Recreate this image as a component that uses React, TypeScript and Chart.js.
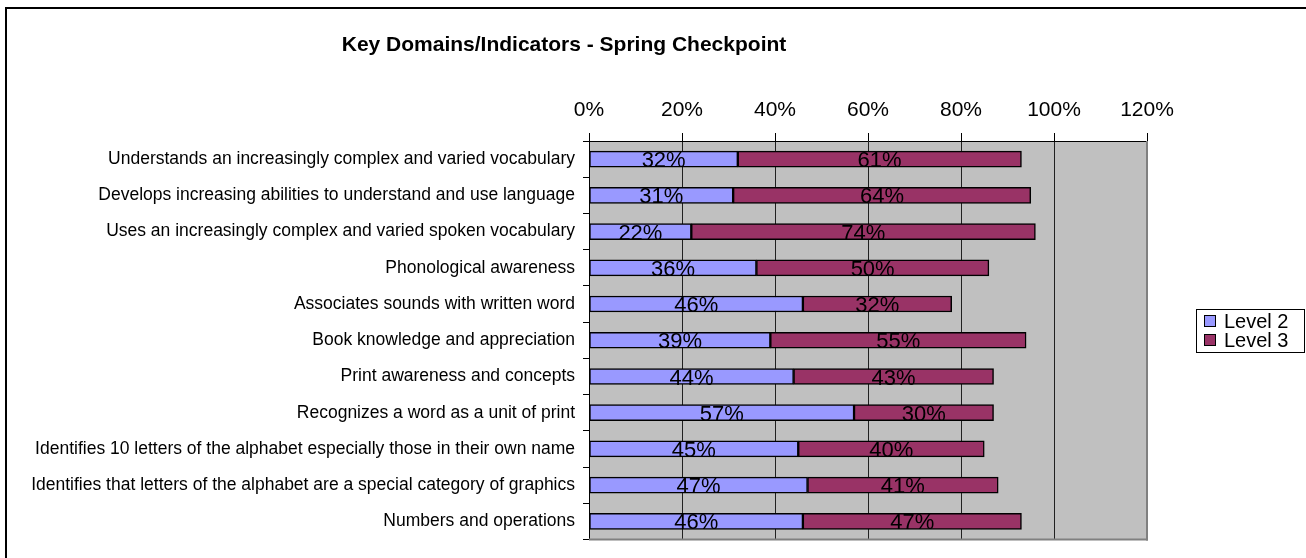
import React, { useEffect, useRef } from "react";
import { Chart, registerables } from "chart.js";

Chart.register(...registerables);

const TITLE = "Key Domains/Indicators - Spring Checkpoint";
const CATEGORIES = [
  "Understands an increasingly complex and varied vocabulary",
  "Develops increasing abilities to understand and use language",
  "Uses an increasingly complex and varied spoken vocabulary",
  "Phonological awareness",
  "Associates sounds with written word",
  "Book knowledge and appreciation",
  "Print awareness and concepts",
  "Recognizes a word as a unit of print",
  "Identifies 10 letters of the alphabet especially those in their own name",
  "Identifies that letters of the alphabet are a special category of graphics",
  "Numbers and operations",
];
const LEVEL2 = [32, 31, 22, 36, 46, 39, 44, 57, 45, 47, 46];
const LEVEL3 = [61, 64, 74, 50, 32, 55, 43, 30, 40, 41, 47];
const SERIES_NAMES = ["Level 2", "Level 3"];
const SERIES_COLORS = ["#9999FF", "#993366"];
const X_MIN = 0;
const X_MAX = 120;
const X_STEP = 20;

const FONT = "'Liberation Sans', Arial, sans-serif";

export default function App() {
  const ref = useRef<HTMLCanvasElement | null>(null);

  useEffect(() => {
    document.body.style.margin = "0";
    const canvas = ref.current!;
    const W = 1306;
    const H = 558;
    const plotLeft = 589;
    const plotTop = 141;
    const plotRight = 1147;
    const plotBottom = 548;

    const decor = {
      id: "decor",
      beforeDraw(chart: any) {
        const ctx = chart.ctx;
        const a = chart.chartArea;
        ctx.save();
        ctx.fillStyle = "#ffffff";
        ctx.fillRect(0, 0, W, H);
        // outer border (top & left visible)
        ctx.fillStyle = "#000000";
        ctx.fillRect(5, 7, W, 2);
        ctx.fillRect(5, 7, 2, H);
        // plot background
        ctx.fillStyle = "#C0C0C0";
        ctx.fillRect(a.left, a.top, a.right - a.left, a.bottom - a.top);
        ctx.restore();
      },
      afterDatasetsDraw(chart: any) {
        const ctx = chart.ctx;
        ctx.save();
        ctx.font = `22px ${FONT}`;
        ctx.fillStyle = "#000000";
        ctx.textAlign = "center";
        ctx.textBaseline = "middle";
        chart.data.datasets.forEach((ds: any, di: number) => {
          const meta = chart.getDatasetMeta(di);
          meta.data.forEach((el: any, i: number) => {
            const v = ds.data[i];
            const cx = (el.x + el.base) / 2;
            ctx.fillText(`${v}%`, cx, el.y + 2);
          });
        });
        ctx.restore();
      },
      afterDraw(chart: any) {
        const ctx = chart.ctx;
        const a = chart.chartArea;
        ctx.save();
        // plot area right/bottom border
        ctx.fillStyle = "#808080";
        ctx.fillRect(a.right - 1, a.top, 2, a.bottom - a.top + 1);
        ctx.fillRect(a.left, a.bottom - 1, a.right - a.left + 1, 2);
        // title
        ctx.fillStyle = "#000000";
        ctx.font = `bold 21px ${FONT}`;
        ctx.textAlign = "center";
        ctx.textBaseline = "middle";
        ctx.fillText(TITLE, 564, 45);
        // legend
        const lx = 1196, ly = 309, lw = 108, lh = 43;
        ctx.fillStyle = "#ffffff";
        ctx.fillRect(lx, ly, lw, lh);
        ctx.strokeStyle = "#000000";
        ctx.lineWidth = 1;
        ctx.strokeRect(lx + 0.5, ly + 0.5, lw, lh);
        ctx.font = `20px ${FONT}`;
        ctx.textAlign = "left";
        chart.data.datasets.forEach((ds: any, i: number) => {
          const cy = ly + 12 + i * 19;
          ctx.fillStyle = ds.backgroundColor;
          ctx.fillRect(lx + 8, cy - 6, 12, 12);
          ctx.strokeStyle = "#000000";
          ctx.strokeRect(lx + 8.5, cy - 5.5, 11, 11);
          ctx.fillStyle = "#000000";
          ctx.fillText(ds.label, lx + 28, cy + 1);
        });
        ctx.restore();
      },
    };

    const chart = new Chart(canvas, {
      type: "bar",
      data: {
        labels: CATEGORIES,
        datasets: SERIES_NAMES.map((name, i) => ({
          label: name,
          data: i === 0 ? LEVEL2 : LEVEL3,
          backgroundColor: SERIES_COLORS[i],
          borderColor: "#000000",
          borderWidth: 1.5,
          borderSkipped: false,
          barThickness: 16,
        })),
      },
      options: {
        indexAxis: "y",
        responsive: false,
        animation: false,
        layout: {
          padding: { left: 0, top: 0, right: W - plotRight, bottom: H - plotBottom },
        },
        plugins: {
          legend: { display: false },
          title: { display: false },
          tooltip: { enabled: false },
        },
        scales: {
          x: {
            position: "top",
            stacked: true,
            min: X_MIN,
            max: X_MAX,
            afterFit(scale: any) {
              scale.height = plotTop;
            },
            ticks: {
              stepSize: X_STEP,
              color: "#000000",
              font: { family: FONT, size: 21 },
              padding: 10,
              callback: (v: any) => `${v}%`,
            },
            grid: {
              color: "#202020",
              lineWidth: 1,
              tickLength: 8,
              tickColor: "#000000",
            },
            border: { display: true, color: "#000000", width: 1 },
          },
          y: {
            stacked: true,
            afterFit(scale: any) {
              scale.width = plotLeft;
            },
            ticks: {
              color: "#000000",
              font: { family: FONT, size: 17.5 },
              padding: 8,
              autoSkip: false,
            },
            grid: {
              offset: true,
              drawOnChartArea: false,
              tickLength: 6,
              tickColor: "#000000",
            },
            border: { display: true, color: "#000000", width: 1 },
          },
        },
      },
      plugins: [decor],
    } as any);

    return () => chart.destroy();
  }, []);

  return (
    <div style={{ width: 1306, height: 558 }}>
      <canvas ref={ref} width={1306} height={558} style={{ display: "block" }} />
    </div>
  );
}
